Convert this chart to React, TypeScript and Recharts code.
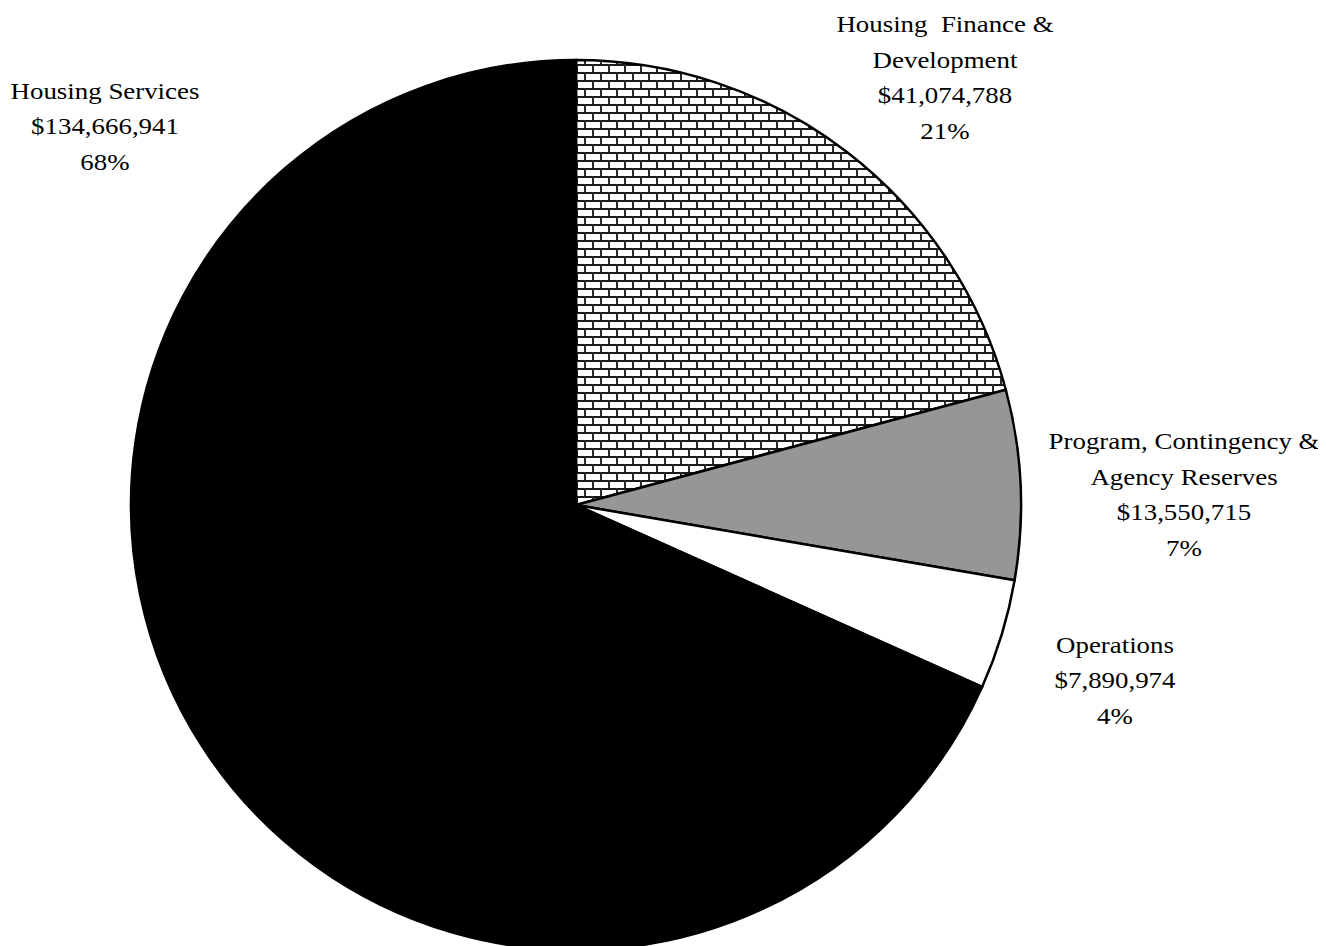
import { Cell, Pie, PieChart } from "recharts";

const categories = [
  "Housing Finance & Development",
  "Program, Contingency & Agency Reserves",
  "Operations",
  "Housing Services",
];
const labelLines = [
  ["Housing  Finance &", "Development"],
  ["Program, Contingency &", "Agency Reserves"],
  ["Operations"],
  ["Housing Services"],
];
const amounts = [41074788, 13550715, 7890974, 134666941];

const FILLS = ["url(#brick)", "#969696", "#ffffff", "#000000"];
// label block centre, relative to the pie centre
const LABEL_OFFSETS: [number, number][] = [
  [369, -428],
  [608, -11],
  [539, 175],
  [-471, -379],
];
const LINE_H = 35.5;
const STRETCH = 1.12;

const total = amounts.reduce((a, b) => a + b, 0);
const data = categories.map((name, i) => ({ name, value: amounts[i] }));

function renderLabel(props: any) {
  const { cx, cy, index } = props;
  const [dx, dy] = LABEL_OFFSETS[index];
  const lines = [
    ...labelLines[index],
    "$" + amounts[index].toLocaleString("en-US"),
    Math.round((amounts[index] / total) * 100) + "%",
  ];
  const top = -((lines.length - 1) * LINE_H) / 2;
  return (
    <text
      key={index}
      transform={`translate(${cx + dx},${cy + dy}) scale(${STRETCH},1)`}
      x={0}
      y={top}
      textAnchor="middle"
      dominantBaseline="central"
      fill="#000"
      style={{ fontFamily: '"Liberation Serif", "Times New Roman", serif', fontSize: 24, whiteSpace: "pre" }}
    >
      {lines.map((l, i) => (
        <tspan key={i} x={0} y={top + i * LINE_H}>
          {l}
        </tspan>
      ))}
    </text>
  );
}

export default function App() {
  return (
    <div style={{ width: 1318, height: 940, position: "relative" }}>
      <svg width={0} height={0} style={{ position: "absolute" }}>
        <defs>
          <pattern id="brick" patternUnits="userSpaceOnUse" width={16} height={16}>
            <rect width={16} height={16} fill="#fff" />
            <line x1={0} y1={1} x2={16} y2={1} stroke="#1a1a1a" strokeWidth={2} />
            <line x1={0} y1={9} x2={16} y2={9} stroke="#1a1a1a" strokeWidth={2} />
            <line x1={1} y1={0} x2={1} y2={8} stroke="#2a2a2a" strokeWidth={2} />
            <line x1={9} y1={8} x2={9} y2={16} stroke="#2a2a2a" strokeWidth={2} />
          </pattern>
        </defs>
      </svg>
      <PieChart
        width={1318}
        height={960}
        margin={{ top: 0, right: 0, bottom: 0, left: 0 }}
        style={{ overflow: "visible" }}
      >
        <Pie
          data={data}
          dataKey="value"
          nameKey="name"
          cx={568}
          cy={497}
          outerRadius={445}
          startAngle={90}
          endAngle={-270}
          stroke="#000"
          strokeWidth={2.5}
          label={renderLabel}
          labelLine={false}
          isAnimationActive={false}
        >
          {data.map((d, i) => (
            <Cell key={d.name} fill={FILLS[i]} />
          ))}
        </Pie>
      </PieChart>
    </div>
  );
}
